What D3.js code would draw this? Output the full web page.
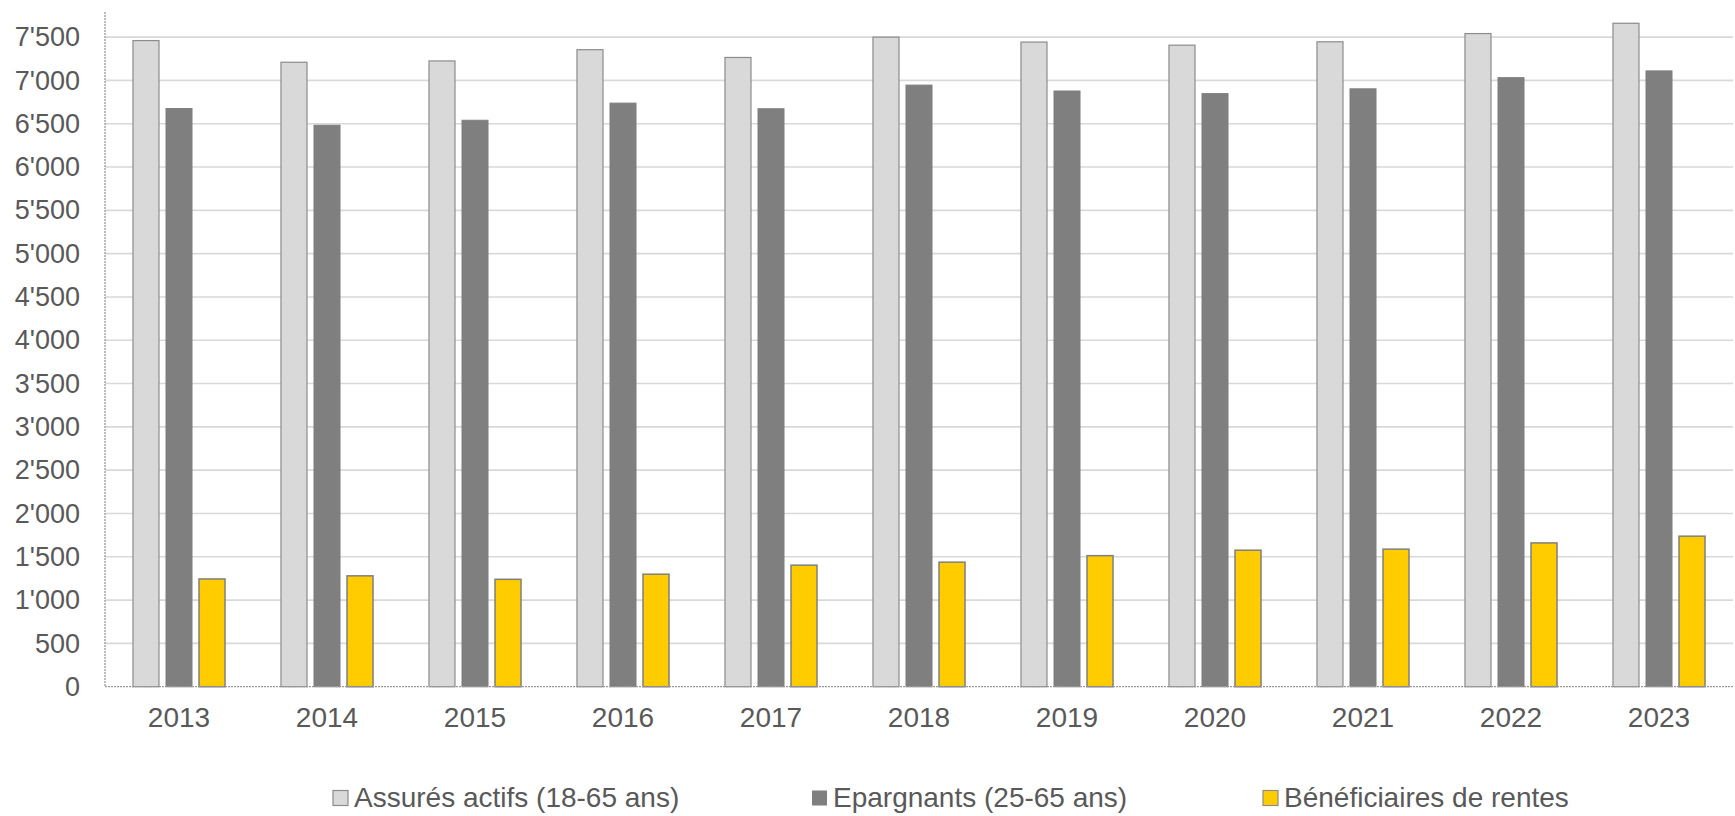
<!DOCTYPE html>
<html>
<head>
<meta charset="utf-8">
<script src="https://cdn.jsdelivr.net/npm/d3@7"></script>
<style>
  html, body { margin: 0; padding: 0; background: #fff; }
  svg { display: block; font-family: "Liberation Sans", Arial, sans-serif; }
</style>
</head>
<body>
<svg id="chart" width="1735" height="816"></svg>
<script>
const years = ["2013","2014","2015","2016","2017","2018","2019","2020","2021","2022","2023"];
const seriesNames = ["Assurés actifs (18-65 ans)", "Epargnants (25-65 ans)", "Bénéficiaires de rentes"];
const assures = [7460, 7210, 7225, 7355, 7265, 7500, 7443, 7407, 7446, 7541, 7660];
const epargnants = [6676, 6483, 6540, 6738, 6673, 6946, 6878, 6848, 6903, 7032, 7110];
const rentiers = [1244, 1280, 1240, 1299, 1403, 1438, 1513, 1576, 1588, 1660, 1738];
const yTicks = [0, 500, 1000, 1500, 2000, 2500, 3000, 3500, 4000, 4500, 5000, 5500, 6000, 6500, 7000, 7500];

(function () {
const seriesValues = [assures, epargnants, rentiers];
const fills = ["#d9d9d9", "#7f7f7f", "#ffcc00"];
const strokes = ["#8c8c8c", "#7f7f7f", "#7f7f7f"];
const strokeW = [1.2, 1, 1.5];

const svg = d3.select("#chart");
const pLeft = 105, pRight = 1733, pTop = 12, pBottom = 686.7;

const x = d3.scaleBand().domain(years).range([pLeft, pRight]).paddingInner(0.378).paddingOuter(0.189);
const xs = d3.scaleBand().domain([0,1,2]).range([0, x.bandwidth()]).paddingInner(0.212).paddingOuter(0);
const y = d3.scaleLinear().domain([0, 7790]).range([pBottom, pTop]);

const fmt = v => d3.format(",")(v).replace(/,/g, "'");

// gridlines
svg.append("g").selectAll("line").data(yTicks.filter(d => d > 0)).join("line")
  .attr("x1", pLeft).attr("x2", pRight)
  .attr("y1", d => y(d)).attr("y2", d => y(d))
  .attr("stroke", "#d9d9d9").attr("stroke-width", 1.6);

// y labels
const yAxis = d3.axisLeft(y).tickValues(yTicks).tickFormat(fmt).tickSize(0).tickPadding(25);
const gy = svg.append("g").attr("transform", `translate(${pLeft},0)`).call(yAxis);
gy.select(".domain").remove();
gy.selectAll("text").attr("font-size", 27).attr("fill", "#595959")
  .attr("font-family", "'Liberation Sans', Arial, sans-serif");

// bars
years.forEach((yr, i) => {
  seriesValues.forEach((vals, s) => {
    svg.append("rect")
      .attr("x", x(yr) + xs(s))
      .attr("y", y(vals[i]))
      .attr("width", xs.bandwidth())
      .attr("height", pBottom - y(vals[i]))
      .attr("fill", fills[s])
      .attr("stroke", strokes[s])
      .attr("stroke-width", strokeW[s]);
  });
});

// axis lines (dotted)
svg.append("line").attr("x1", pLeft).attr("x2", pLeft).attr("y1", pTop).attr("y2", pBottom)
  .attr("stroke", "#9a9a9a").attr("stroke-width", 1.3).attr("stroke-dasharray", "2,1");
svg.append("line").attr("x1", pLeft).attr("x2", pRight).attr("y1", pBottom).attr("y2", pBottom)
  .attr("stroke", "#9a9a9a").attr("stroke-width", 1.3).attr("stroke-dasharray", "2,1");

// x labels
const xAxis = d3.axisBottom(x).tickSize(0).tickPadding(0);
const gx = svg.append("g").attr("transform", `translate(0,${pBottom})`).call(xAxis);
gx.select(".domain").remove();
gx.selectAll("text").attr("font-size", 28).attr("fill", "#595959")
  .attr("font-family", "'Liberation Sans', Arial, sans-serif")
  .attr("y", 31).attr("dy", "0.35em");

// legend
const legendX = [333, 812, 1263];
const lg = svg.append("g");
seriesNames.forEach((name, s) => {
  lg.append("rect").attr("x", legendX[s]).attr("y", 790.5).attr("width", 15).attr("height", 15)
    .attr("fill", fills[s]).attr("stroke", s === 1 ? "none" : "#8c8c8c").attr("stroke-width", 1.2);
  lg.append("text").attr("x", legendX[s] + 21).attr("y", 797).attr("dy", "0.35em")
    .attr("font-size", 28).attr("fill", "#595959").text(name);
});
})();
</script>
</body>
</html>
